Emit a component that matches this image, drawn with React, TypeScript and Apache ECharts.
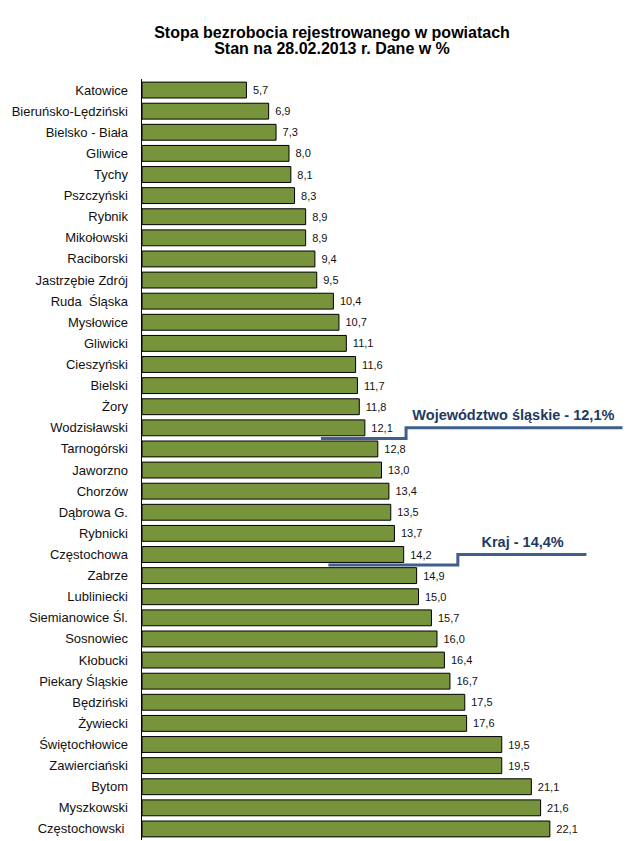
import React, { useEffect, useRef } from 'react';
import * as echarts from 'echarts';

const titleLines = ['Stopa bezrobocia rejestrowanego w powiatach', 'Stan na 28.02.2013 r. Dane w %'];

const categories = [
  'Katowice', 'Bieruńsko-Lędziński', 'Bielsko - Biała', 'Gliwice', 'Tychy', 'Pszczyński',
  'Rybnik', 'Mikołowski', 'Raciborski', 'Jastrzębie Zdrój', 'Ruda  Śląska', 'Mysłowice',
  'Gliwicki', 'Cieszyński', 'Bielski', 'Żory', 'Wodzisławski', 'Tarnogórski', 'Jaworzno',
  'Chorzów', 'Dąbrowa G.', 'Rybnicki', 'Częstochowa', 'Zabrze', 'Lubliniecki',
  'Siemianowice Śl.', 'Sosnowiec', 'Kłobucki', 'Piekary Śląskie', 'Będziński', 'Żywiecki',
  'Świętochłowice', 'Zawierciański', 'Bytom', 'Myszkowski', 'Częstochowski ',
];

const values = [
  5.7, 6.9, 7.3, 8.0, 8.1, 8.3, 8.9, 8.9, 9.4, 9.5, 10.4, 10.7, 11.1, 11.6, 11.7, 11.8,
  12.1, 12.8, 13.0, 13.4, 13.5, 13.7, 14.2, 14.9, 15.0, 15.7, 16.0, 16.4, 16.7, 17.5, 17.6,
  19.5, 19.5, 21.1, 21.6, 22.1,
];

// reference annotations: category row index, x in data units for start / step / end, label centre x
const refLabels = ['Województwo śląskie - 12,1%', 'Kraj - 14,4%'];
const refRows = [16, 22];
const refXStart = [9.7, 10.1];
const refXStep = [14.3, 17.1];
const refXEnd = [26, 24.05];
const refLabelX = [20.1, 20.6];

export default function App() {
  const ref = useRef<HTMLDivElement>(null);
  useEffect(() => {
    document.body.style.margin = '0';
    const chart = echarts.init(ref.current!, null, { renderer: 'svg' });
    const font = 'Arial, "Liberation Sans", sans-serif';
    chart.setOption({
      animation: false,
      backgroundColor: '#ffffff',
      title: {
        text: titleLines.join('\n'),
        left: 327,
        textAlign: 'center',
        top: 19,
        textStyle: { fontFamily: font, fontSize: 16, fontWeight: 'bold', color: '#000', lineHeight: 16.5 },
      },
      grid: { left: 141.5, right: 9.5, top: 79.5, bottom: 1.5, containLabel: false },
      xAxis: {
        type: 'value', min: 0, max: 26, show: false,
      },
      yAxis: {
        type: 'category', data: categories, inverse: true,
        axisLine: { show: true, lineStyle: { color: '#000', width: 1 } },
        axisTick: { show: false },
        axisLabel: { margin: 13.5, fontFamily: font, fontSize: 13, color: '#111' },
        splitLine: { show: false },
      },
      series: [{
        type: 'bar', data: values, barCategoryGap: '20%',
        itemStyle: { color: '#77933C', borderColor: '#000', borderWidth: 1 },
        label: {
          show: true, position: 'right', distance: 6, fontFamily: font, fontSize: 11, color: '#111',
          formatter: (p: any) => Number(p.value).toFixed(1).replace('.', ','),
        },
      }],
    });

    const yc = (i: number) => chart.convertToPixel({ yAxisIndex: 0 }, i) as number;
    const xp = (v: number) => chart.convertToPixel({ xAxisIndex: 0 }, v) as number;
    const band = yc(1) - yc(0);
    const graphics: any[] = [];
    refLabels.forEach((lab, k) => {
      const yUp = yc(refRows[k]);
      const yLow = yUp + band / 2;
      graphics.push({
        type: 'polyline',
        shape: { points: [[xp(refXStart[k]), yLow], [xp(refXStep[k]), yLow], [xp(refXStep[k]), yUp], [xp(refXEnd[k]), yUp]] },
        style: { stroke: '#3F5F8C', lineWidth: 3, fill: null },
        z: 10,
      });
      graphics.push({
        type: 'text',
        x: xp(refLabelX[k]), y: yUp - 12.5,
        style: { text: lab, fontFamily: font, fontSize: 14.5, fontWeight: 'bold', fill: '#1F3A60', align: 'center', verticalAlign: 'middle' },
        z: 10,
      });
    });
    chart.setOption({ graphic: graphics });
    return () => chart.dispose();
  }, []);
  return <div ref={ref} style={{ width: 632, height: 841 }} />;
}
